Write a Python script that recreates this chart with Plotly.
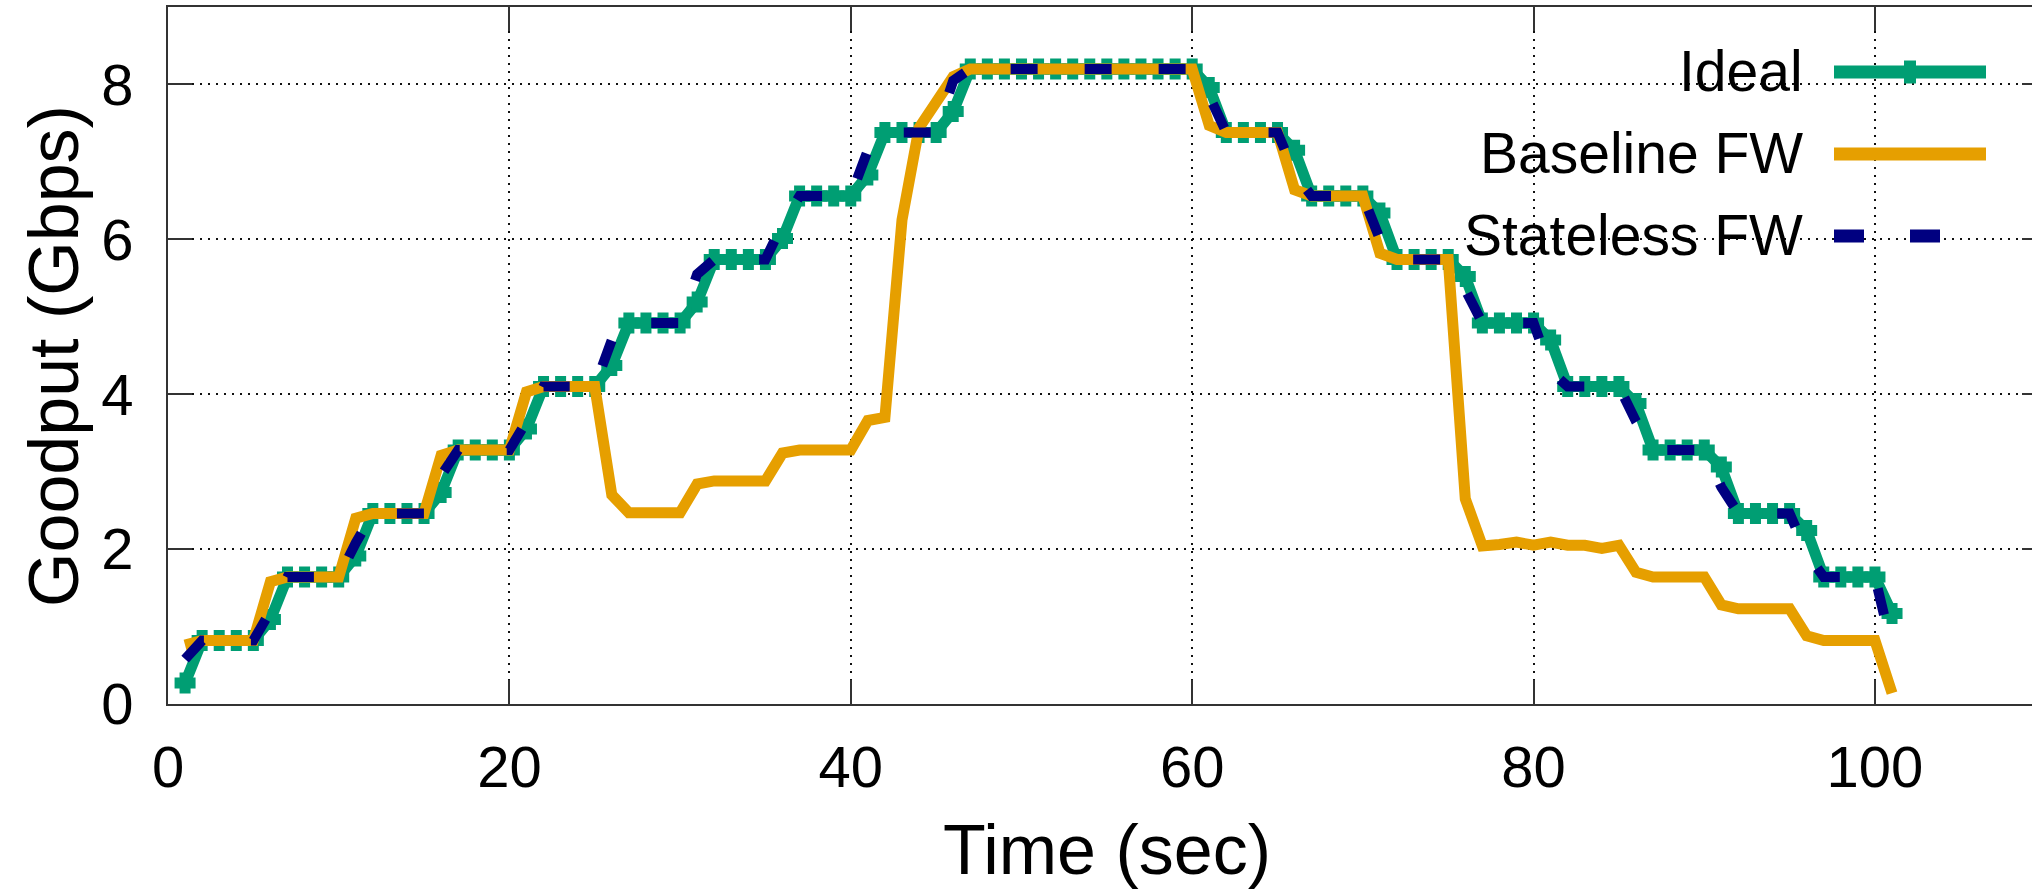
import plotly.graph_objects as go

# ---------------- data ----------------
time_sec = [1, 2, 3, 4, 5, 6, 7, 8, 9, 10,
            11, 12, 13, 14, 15, 16, 17, 18, 19, 20,
            21, 22, 23, 24, 25, 26, 27, 28, 29, 30,
            31, 32, 33, 34, 35, 36, 37, 38, 39, 40,
            41, 42, 43, 44, 45, 46, 47, 48, 49, 50,
            51, 52, 53, 54, 55, 56, 57, 58, 59, 60,
            61, 62, 63, 64, 65, 66, 67, 68, 69, 70,
            71, 72, 73, 74, 75, 76, 77, 78, 79, 80,
            81, 82, 83, 84, 85, 86, 87, 88, 89, 90,
            91, 92, 93, 94, 95, 96, 97, 98, 99, 100,
            101]

ideal = [0.27,
         0.82, 0.82, 0.82, 0.82, 1.09,
         1.64, 1.64, 1.64, 1.64, 1.91,
         2.46, 2.46, 2.46, 2.46, 2.73,
         3.28, 3.28, 3.28, 3.28, 3.55,
         4.10, 4.10, 4.10, 4.10, 4.37,
         4.92, 4.92, 4.92, 4.92, 5.19,
         5.74, 5.74, 5.74, 5.74, 6.01,
         6.56, 6.56, 6.56, 6.56, 6.83,
         7.38, 7.38, 7.38, 7.38, 7.65,
         8.20, 8.20, 8.20, 8.20, 8.20, 8.20, 8.20,
         8.20, 8.20, 8.20, 8.20, 8.20, 8.20, 8.20,
         7.96, 7.38, 7.38, 7.38, 7.38,
         7.15, 6.56, 6.56, 6.56, 6.56,
         6.34, 5.74, 5.74, 5.74, 5.74,
         5.52, 4.92, 4.92, 4.92, 4.92,
         4.70, 4.10, 4.10, 4.10, 4.10,
         3.88, 3.28, 3.28, 3.28, 3.28,
         3.06, 2.46, 2.46, 2.46, 2.46,
         2.24, 1.64, 1.64, 1.64, 1.64,
         1.17]

baseline_fw = [0.76,
               0.82, 0.82, 0.82, 0.82, 1.58,
               1.64, 1.64, 1.64, 1.64, 2.40,
               2.46, 2.46, 2.46, 2.46, 3.21,
               3.28, 3.28, 3.28, 3.28, 4.03,
               4.10, 4.10, 4.10, 4.10, 2.70,
               2.47, 2.47, 2.47, 2.47, 2.84,
               2.88, 2.88, 2.88, 2.88, 3.24,
               3.28, 3.28, 3.28, 3.28, 3.66,
               3.70, 6.25, 7.44, 7.77, 8.10,
               8.20, 8.20, 8.20, 8.20, 8.20, 8.20, 8.20,
               8.20, 8.20, 8.20, 8.20, 8.20, 8.20, 8.20,
               7.47, 7.38, 7.38, 7.38, 7.38,
               6.64, 6.56, 6.56, 6.56, 6.56,
               5.82, 5.74, 5.74, 5.74, 5.74,
               2.65, 2.04, 2.06, 2.09, 2.05,
               2.09, 2.05, 2.05, 2.01, 2.05,
               1.70, 1.64, 1.64, 1.64, 1.64,
               1.28, 1.23, 1.23, 1.23, 1.23,
               0.88, 0.82, 0.82, 0.82, 0.82,
               0.14]

stateless_fw = [0.58,
                0.82, 0.82, 0.82, 0.82, 1.20,
                1.64, 1.64, 1.64, 1.64, 2.08,
                2.46, 2.46, 2.46, 2.46, 2.95,
                3.28, 3.28, 3.28, 3.28, 3.65,
                4.10, 4.10, 4.10, 4.10, 4.70,
                4.92, 4.92, 4.92, 4.92, 5.55,
                5.74, 5.74, 5.74, 5.74, 6.20,
                6.56, 6.56, 6.56, 6.56, 7.15,
                7.38, 7.38, 7.38, 7.38, 8.05,
                8.20, 8.20, 8.20, 8.20, 8.20, 8.20, 8.20,
                8.20, 8.20, 8.20, 8.20, 8.20, 8.20, 8.20,
                7.85, 7.38, 7.38, 7.38, 7.38,
                6.85, 6.56, 6.56, 6.56, 6.56,
                6.00, 5.74, 5.74, 5.74, 5.74,
                5.35, 4.92, 4.92, 4.92, 4.92,
                4.30, 4.10, 4.10, 4.10, 4.10,
                3.65, 3.28, 3.28, 3.28, 3.28,
                2.80, 2.46, 2.46, 2.46, 2.46,
                1.95, 1.64, 1.64, 1.64, 1.64,
                0.72]

series_names = ["Ideal", "Baseline FW", "Stateless FW"]
x_ticks = [0, 20, 40, 60, 80, 100]
y_ticks = [0, 2, 4, 6, 8]
x_title = "Time (sec)"
y_title = "Goodput (Gbps)"

# ---------------- style ----------------
GREEN = "#009E73"
ORANGE = "#E69F00"
NAVY = "#000080"
AXIS = "#333333"
FONT = "Liberation Sans, Arial, sans-serif"

W, H = 2032, 894
L, R, T, B = 168, 2032, 7, 704


def px(xp):
    return (xp - L) / (R - L)


def py(yp):
    return (B - yp) / (B - T)


fig = go.Figure()

fig.add_trace(go.Scatter(
    x=time_sec, y=ideal, name=series_names[0], mode="lines+markers",
    line=dict(color=GREEN, width=11),
    marker=dict(symbol="cross-thin", size=15, color=GREEN,
                line=dict(color=GREEN, width=11)),
    showlegend=False))

fig.add_trace(go.Scatter(
    x=time_sec, y=baseline_fw, name=series_names[1], mode="lines",
    line=dict(color=ORANGE, width=11),
    showlegend=False))

fig.add_trace(go.Scatter(
    x=time_sec, y=stateless_fw, name=series_names[2], mode="lines",
    line=dict(color=NAVY, width=10, dash="27px,47px"),
    showlegend=False))

# helper trace that carries the right-hand tick axis
fig.add_trace(go.Scatter(x=[None], y=[None], yaxis="y2", mode="lines",
                         showlegend=False, hoverinfo="skip"))

grid = dict(showgrid=True, gridcolor="#111111", gridwidth=1.5, griddash="2px,6px")

fig.update_layout(
    width=W, height=H,
    margin=dict(l=L, r=W - R, t=T, b=H - B, pad=0),
    paper_bgcolor="white", plot_bgcolor="white",
    font=dict(family=FONT, size=58, color="black"),
    xaxis=dict(range=[0, 109.2], tickvals=x_ticks, ticks="inside", ticklen=24,
               tickwidth=2, tickcolor=AXIS, showline=True, linecolor=AXIS,
               linewidth=2, mirror="ticks", zeroline=False,
               tickfont=dict(family=FONT, size=58, color="black"),
               ticklabelstandoff=11, **grid),
    yaxis=dict(range=[0, 9], tickvals=y_ticks, ticks="inside", ticklen=24,
               tickwidth=2, tickcolor=AXIS, showline=True, linecolor=AXIS,
               linewidth=2, mirror=False, zeroline=False,
               tickfont=dict(family=FONT, size=58, color="black"),
               ticklabelstandoff=21, **grid),
    yaxis2=dict(range=[0, 9], tickvals=y_ticks, overlaying="y", side="right",
                anchor="x", ticks="inside", ticklen=10, tickwidth=2,
                tickcolor=AXIS, showticklabels=False, showgrid=False,
                showline=False, zeroline=False),
)

shapes = []
# opaque key background
shapes.append(dict(type="rect", xref="paper", yref="paper", layer="between",
                   x0=px(1424), x1=px(2016), y0=py(272), y1=py(31),
                   fillcolor="white", line=dict(width=0)))
# key samples
sx0, sx1 = px(1834), px(1986)
shapes.append(dict(type="line", xref="paper", yref="paper", x0=sx0, x1=sx1,
                   y0=py(72), y1=py(72), line=dict(color=GREEN, width=13)))
shapes.append(dict(type="rect", xref="paper", yref="paper",
                   x0=px(1904), x1=px(1916), y0=py(83.5), y1=py(60.5),
                   fillcolor=GREEN, line=dict(width=0)))
shapes.append(dict(type="line", xref="paper", yref="paper", x0=sx0, x1=sx1,
                   y0=py(154), y1=py(154), line=dict(color=ORANGE, width=13)))
shapes.append(dict(type="line", xref="paper", yref="paper", x0=sx0, x1=sx1,
                   y0=py(236), y1=py(236),
                   line=dict(color=NAVY, width=13, dash="30px,46px")))
fig.update_layout(shapes=shapes)

annotations = []
for name, yc in zip(series_names, [71, 153, 235]):
    annotations.append(dict(text=name, xref="paper", yref="paper",
                            x=px(1805), y=py(yc), xanchor="right",
                            yanchor="middle", showarrow=False,
                            font=dict(family=FONT, size=57, color="black")))
annotations.append(dict(text=x_title, xref="paper", yref="paper",
                        x=px(1107), y=py(850), xanchor="center",
                        yanchor="middle", showarrow=False,
                        font=dict(family=FONT, size=70, color="black")))
annotations.append(dict(text=y_title, xref="paper", yref="paper",
                        x=px(54), y=py(356), xanchor="center",
                        yanchor="middle", textangle=-90, showarrow=False,
                        font=dict(family=FONT, size=70, color="black")))
fig.update_layout(annotations=annotations)

fig.write_html(
    "out.html",
    config={"displayModeBar": False},
    post_script=("document.body.style.margin='0px';"
                 "document.body.style.overflow='hidden';"
                 "document.documentElement.style.overflow='hidden';"),
)
